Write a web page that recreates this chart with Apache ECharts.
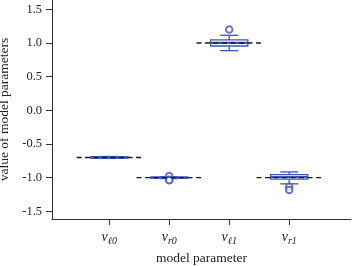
<!DOCTYPE html>
<html><head><meta charset="utf-8">
<script src="https://cdn.jsdelivr.net/npm/echarts@6/dist/echarts.min.js"></script>
<style>html,body{margin:0;padding:0;background:#fff}#c{width:353px;height:266px}</style>
</head><body><div id="c"></div>
<script>
// categories (base letter, subscript)
const categories = [['v','ℓ0'],['v','r0'],['v','ℓ1'],['v','r1']];
const trueValues = [-0.7, -1.0, 1.0, -1.0];
const whiskerLow = [-0.714, -1.014, 0.886, -1.092];
const q1Values   = [-0.708, -1.008, 0.955, -1.022];
const medians    = [-0.700, -1.000, 1.000, -0.990];
const q3Values   = [-0.692, -0.992, 1.045, -0.955];
const whiskerHigh= [-0.686, -0.986, 1.114, -0.915];
const outliers = [[1,-0.975],[1,-1.03],[1,-1.04],[2,1.20],[3,-1.135],[3,-1.183]];
const yTicks = [-1.5,-1.0,-0.5,0.0,0.5,1.0,1.5];
const xTicks = [0,1,2,3];

const blue = '#3c55b5';
const serif = 'Liberation Serif';
const boxData = categories.map((c,i)=>[i, whiskerLow[i], q1Values[i], medians[i], q3Values[i], whiskerHigh[i]]);
const refData = trueValues.map((v,i)=>[i,v]);

const chart = echarts.init(document.getElementById('c'), null, {renderer:'canvas'});
chart.setOption({
  animation:false,
  grid:{left:52,right:2,top:0,bottom:47,outerBoundsMode:'none',containLabel:false},
  xAxis:{type:'value',min:-0.955,max:4.03,
    name:'model parameter',nameLocation:'middle',nameGap:32,
    nameTextStyle:{fontFamily:serif,fontSize:13.5,color:'#222'},
    axisLine:{show:true,onZero:false,lineStyle:{color:'#333',width:1}},
    axisTick:{show:true,length:6,inside:false,customValues:xTicks,lineStyle:{color:'#333'}},
    splitLine:{show:false},
    axisLabel:{customValues:xTicks,margin:9,color:'#222',
      formatter:(v)=>{const c=categories[Math.round(v)];return c?('{v|'+c[0]+'}{s|'+c[1]+'}'):'';},
      rich:{v:{fontFamily:serif,fontStyle:'italic',fontSize:14,lineHeight:18,verticalAlign:'middle',color:'#222'},
            s:{fontFamily:serif,fontStyle:'italic',fontSize:10,lineHeight:18,verticalAlign:'bottom',color:'#222'}}}
  },
  yAxis:{type:'value',min:-1.614,max:1.638,
    name:'value of model parameters',nameLocation:'middle',nameGap:35,
    nameTextStyle:{fontFamily:serif,fontSize:13.5,color:'#222'},
    axisLine:{show:true,onZero:false,lineStyle:{color:'#333',width:1}},
    axisTick:{show:true,length:6,customValues:yTicks,lineStyle:{color:'#333'}},
    splitLine:{show:false},
    axisLabel:{customValues:yTicks,margin:10,fontFamily:serif,fontSize:12.5,color:'#222',
      formatter:(v)=>v.toFixed(1)}
  },
  series:[
    {type:'custom',data:boxData,encode:{x:0,y:[1,2,3,4,5]},z:2,
     renderItem:(params,api)=>{
       const x=api.value(0), lo=api.value(1), q1=api.value(2), md=api.value(3), q3=api.value(4), hi=api.value(5);
       const bw=0.31, cw=0.15;
       const tl=api.coord([x-bw,q3]), br=api.coord([x+bw,q1]);
       const pLo=api.coord([x,lo]), pHi=api.coord([x,hi]);
       const c1=api.coord([x-cw,lo]), c2=api.coord([x+cw,lo]);
       const c3=api.coord([x-cw,hi]), c4=api.coord([x+cw,hi]);
       const m1=api.coord([x-bw,md]), m2=api.coord([x+bw,md]);
       const ls={stroke:blue,lineWidth:1.3,fill:null};
       return {type:'group',children:[
         {type:'line',shape:{x1:pLo[0],y1:pLo[1],x2:pLo[0],y2:br[1]},style:ls},
         {type:'line',shape:{x1:pHi[0],y1:pHi[1],x2:pHi[0],y2:tl[1]},style:ls},
         {type:'line',shape:{x1:c1[0],y1:c1[1],x2:c2[0],y2:c2[1]},style:ls},
         {type:'line',shape:{x1:c3[0],y1:c3[1],x2:c4[0],y2:c4[1]},style:ls},
         {type:'rect',shape:{x:tl[0],y:tl[1],width:br[0]-tl[0],height:br[1]-tl[1]},style:{stroke:blue,lineWidth:1.3,fill:'#fff'}},
         {type:'line',shape:{x1:m1[0],y1:m1[1],x2:m2[0],y2:m2[1]},style:{stroke:blue,lineWidth:2.2}}
       ]};
     }},
    {type:'scatter',data:outliers,symbol:'emptyCircle',symbolSize:6.5,z:3,
     itemStyle:{color:blue,borderColor:blue,borderWidth:1.3}},
    {type:'custom',data:refData,encode:{x:0,y:1},z:4,
     renderItem:(params,api)=>{
       const x=api.value(0), v=api.value(1);
       const a=api.coord([x-0.545,v]), b=api.coord([x+0.545,v]);
       return {type:'line',shape:{x1:a[0],y1:a[1],x2:b[0],y2:b[1]},
         style:{stroke:'#1a1a1a',lineWidth:1.4,lineDash:[5,3.5]}};
     }}
  ]
});
</script></body></html>
